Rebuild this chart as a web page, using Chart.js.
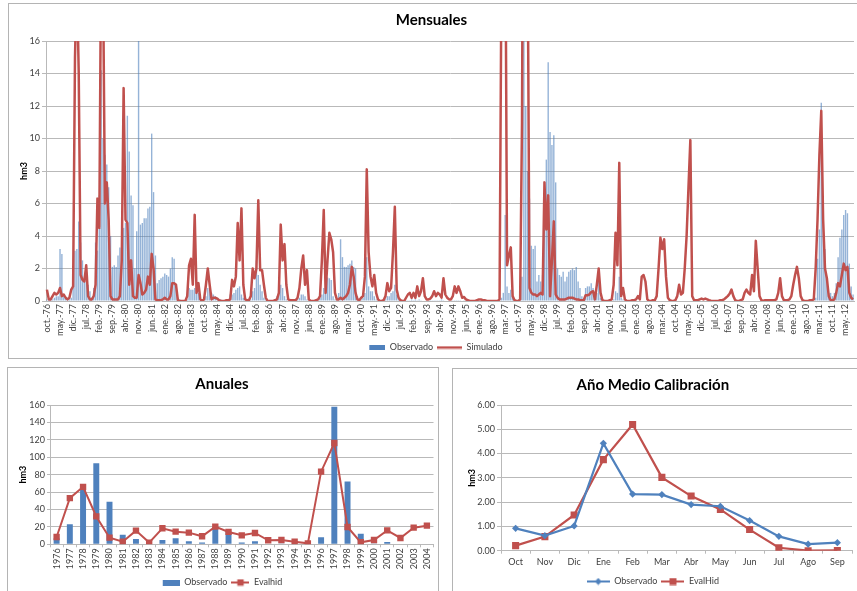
<!DOCTYPE html>
<html lang="es">
<head>
<meta charset="utf-8">
<title>Calibración EvalHid</title>
<script src="https://cdn.jsdelivr.net/npm/chart.js@4.4.1/dist/chart.umd.min.js"></script>
<style>
    html, body { margin: 0; padding: 0; background: #fff; }
    body { position: relative; width: 857px; height: 591px; overflow: hidden; }
    .marco { position: absolute; box-sizing: border-box; border: 1px solid #b4b4b4; background: #fff; }
    #marcoMens  { left: 8px;   top: 3px;   width: 870px; height: 356px; }
    #marcoAnual { left: 7px;   top: 367px; width: 432px; height: 240px; }
    #marcoMedio { left: 452px; top: 368px; width: 420px; height: 240px; }
    canvas { position: absolute; }
    #mensuales { left: 9px;   top: 4px; }
    #anuales   { left: 8px;   top: 368px; }
    #medio     { left: 453px; top: 369px; }
</style>
</head>
<body>
<div class="marco" id="marcoMens"></div>
<div class="marco" id="marcoAnual"></div>
<div class="marco" id="marcoMedio"></div>
<canvas id="mensuales" width="847" height="358"></canvas>
<canvas id="anuales" width="430" height="229"></canvas>
<canvas id="medio" width="404" height="227"></canvas>

<script>
// ---------------------------------------------------------------
// Datos (hm3). Series mensuales por año hidrológico, oct -> sep
// ---------------------------------------------------------------
const MESES_ABR = ['oct.', 'nov.', 'dic.', 'ene.', 'feb.', 'mar.', 'abr.', 'may.', 'jun.', 'jul.', 'ago.', 'sep.'];
const ANIO_INICIO = 1976;

const obsMensual = [
    [0.1, 0.1, 0.1, 0.1, 0.2, 0.3, 0.3, 3.2, 2.9, 0.4, 0.2, 0.1],      // 1976-77
    [0.1, 0.2, 0.8, 3.1, 3.2, 4.9, 3.6, 2.5, 1.5, 1.2, 1.0, 0.6],
    [0.2, 0.8, 3.6, 3.1, 6.5, 14.2, 10.0, 9.0, 8.4, 7.0, 4.0, 2.1],
    [2.2, 2.1, 2.8, 3.3, 3.8, 4.5, 4.8, 11.4, 9.2, 6.5, 5.9, 2.0],
    [4.3, 16.0, 4.7, 4.8, 5.1, 5.1, 5.7, 5.8, 10.3, 6.7, 2.8, 1.1],    // 1980-81
    [1.3, 1.4, 1.5, 1.7, 1.6, 1.5, 2.0, 2.7, 2.6, 1.0, 0.2, 0.1],
    [0.0, 0.0, 0.0, 0.1, 0.8, 0.7, 0.7, 0.8, 0.6, 0.5, 0.2, 0.1],
    [0.1, 0.3, 0.8, 0.7, 0.5, 0.4, 0.3, 0.2, 0.1, 0.1, 0.0, 0.0],
    [0.0, 0.1, 0.4, 0.4, 0.5, 0.7, 0.8, 0.9, 0.4, 0.2, 0.1, 0.0],
    [0.0, 0.1, 0.6, 0.8, 2.5, 1.6, 1.0, 0.6, 0.2, 0.1, 0.0, 0.0],      // 1985-86
    [0.0, 0.0, 0.1, 0.3, 1.2, 1.0, 0.8, 0.3, 0.1, 0.0, 0.0, 0.0],
    [0.0, 0.0, 0.1, 0.2, 0.4, 0.4, 0.3, 0.1, 0.0, 0.0, 0.0, 0.0],
    [0.0, 0.05, 0.2, 0.4, 0.8, 0.9, 1.45, 1.4, 1.3, 0.3, 0.1, 0.05],
    [0.5, 3.8, 2.7, 2.1, 2.1, 2.2, 2.3, 2.5, 2.1, 2.0, 0.3, 0.1],
    [0.1, 0.2, 0.5, 2.7, 0.9, 0.6, 0.6, 0.3, 0.1, 0.0, 0.0, 0.0],      // 1990-91
    [0.0, 0.1, 0.3, 0.3, 0.5, 0.6, 1.0, 0.4, 0.1, 0.0, 0.0, 0.0],
    [0.05, 0.05, 0.05, 0.1, 0.05, 0.1, 0.05, 0.1, 0.05, 0.0, 0.0, 0.0],
    [0.0, 0.05, 0.05, 0.05, 0.05, 0.05, 0.05, 0.1, 0.05, 0.0, 0.0, 0.0],
    [0.0, 0.05, 0.05, 0.05, 0.05, 0.05, 0.0, 0.05, 0.0, 0.0, 0.0, 0.0],
    [0.0, 0.0, 0.0, 0.05, 0.05, 0.0, 0.0, 0.0, 0.0, 0.0, 0.0, 0.0],    // 1995-96
    [0.0, 0.0, 0.0, 0.2, 0.5, 5.3, 0.9, 0.5, 0.7, 0.2, 0.05, 0.0],
    [0.0, 0.1, 1.5, 95.0, 12.0, 8.0, 6.3, 3.4, 3.2, 3.4, 1.2, 1.6],
    [1.2, 1.6, 5.1, 8.7, 14.7, 10.4, 9.6, 10.2, 7.3, 2.0, 1.6, 1.5],
    [1.8, 1.2, 1.5, 1.8, 1.9, 2.0, 1.9, 2.1, 1.2, 0.8, 0.3, 0.1],
    [0.8, 0.9, 0.9, 1.1, 0.8, 0.3, 0.5, 1.6, 0.2, 0.0, 0.0, 0.0],      // 2000-01
    [0.0, 0.0, 0.0, 0.1, 0.6, 0.5, 1.5, 0.2, 0.1, 0.0, 0.0, 0.0],
    [0, 0, 0, 0, 0, 0, 0, 0, 0, 0, 0, 0],
    [0, 0, 0, 0, 0, 0, 0, 0, 0, 0, 0, 0],
    [0, 0, 0, 0, 0, 0, 0, 0, 0, 0, 0, 0],
    [0, 0, 0, 0, 0, 0, 0, 0, 0, 0, 0, 0],                              // 2005-06
    [0, 0, 0, 0, 0, 0, 0, 0, 0, 0, 0, 0],
    [0, 0, 0, 0, 0, 0, 0, 0, 0, 0, 0, 0],
    [0, 0, 0, 0, 0, 0, 0, 0, 0, 0, 0, 0],
    [0, 0, 0, 0, 0, 0, 0, 0, 0, 0, 0, 0],
    [0.0, 0.0, 0.0, 0.2, 2.6, 4.4, 12.2, 4.7, 3.2, 1.4, 0.5, 0.5],     // 2010-11
    [0.3, 0.5, 1.1, 2.7, 3.9, 4.4, 5.3, 5.6, 5.4, 2.3, 0.9, 0.4]
];

const simMensual = [
    [0.7, 0.1, 0.1, 0.3, 0.5, 0.4, 0.5, 0.8, 0.3, 0.4, 0.2, 0.1],      // 1976-77
    [0.2, 0.7, 0.9, 15.0, 20.0, 14.0, 1.6, 1.3, 1.2, 2.2, 0.3, 0.1],
    [0.1, 0.3, 1.0, 6.3, 4.5, 22.0, 20.0, 6.0, 7.3, 5.0, 0.3, 0.1],
    [0.1, 0.1, 0.1, 0.3, 2.5, 13.1, 5.0, 4.8, 1.0, 2.5, 0.3, 0.2],
    [0.2, 1.6, 1.1, 0.4, 0.5, 0.7, 1.5, 1.0, 2.9, 2.0, 0.1, 0.05],     // 1980-81
    [0.05, 0.05, 0.1, 0.2, 0.1, 0.1, 0.3, 1.1, 1.1, 1.0, 0.05, 0.0],
    [0.0, 0.0, 0.0, 0.3, 2.2, 2.6, 1.0, 5.3, 0.5, 1.1, 0.1, 0.0],
    [0.1, 1.0, 2.0, 1.0, 0.1, 0.2, 0.2, 0.15, 0.05, 0.0, 0.0, 0.0],
    [0.05, 0.05, 0.1, 1.3, 0.9, 1.5, 4.8, 2.5, 5.7, 1.0, 0.1, 0.05],
    [0.05, 0.3, 2.0, 1.4, 2.0, 6.2, 1.9, 1.9, 1.0, 0.2, 0.0, 0.0],     // 1985-86
    [0.0, 0.0, 0.05, 0.1, 0.5, 4.7, 2.5, 3.5, 1.0, 0.1, 0.05, 0.05],
    [0.05, 0.05, 0.2, 0.8, 2.0, 2.8, 1.0, 1.9, 0.1, 0.0, 0.0, 0.0],
    [0.05, 0.1, 0.3, 2.5, 5.6, 0.5, 2.5, 4.2, 3.8, 3.0, 0.5, 0.1],
    [0.1, 0.2, 0.1, 0.2, 0.3, 0.5, 1.0, 2.1, 1.5, 0.5, 0.1, 0.05],
    [0.2, 0.3, 1.5, 8.1, 3.0, 1.5, 0.9, 1.6, 0.5, 0.1, 0.0, 0.0],      // 1990-91
    [0.05, 0.3, 1.1, 0.6, 0.8, 3.0, 5.8, 0.7, 0.2, 0.05, 0.0, 0.0],
    [0.2, 0.4, 0.5, 0.2, 0.5, 0.2, 0.9, 0.3, 0.6, 1.4, 0.3, 0.1],
    [0.1, 0.15, 0.3, 0.6, 0.3, 0.5, 0.4, 0.2, 1.4, 0.4, 0.2, 0.1],
    [0.1, 0.3, 0.9, 0.5, 0.9, 0.6, 0.2, 0.25, 0.1, 0.05, 0.0, 0.0],
    [0.0, 0.0, 0.05, 0.1, 0.1, 0.05, 0.05, 0.02, 0.0, 0.0, 0.0, 0.0],  // 1995-96
    [0.0, 0.0, 0.1, 20.0, 28.0, 26.0, 2.2, 2.8, 3.3, 0.3, 0.05, 0.0],
    [0.0, 0.1, 11.0, 40.0, 45.0, 22.0, 0.8, 0.5, 0.4, 0.4, 0.3, 0.4],
    [0.5, 0.4, 7.3, 4.4, 6.5, 0.3, 2.5, 4.9, 0.4, 0.2, 0.1, 0.1],
    [0.1, 0.1, 0.15, 0.2, 0.2, 0.2, 0.15, 0.1, 0.1, 0.05, 0.05, 0.05],
    [0.35, 0.35, 0.4, 0.55, 0.6, 0.1, 1.0, 2.0, 0.5, 0.05, 0.0, 0.0],  // 2000-01
    [0.0, 0.05, 0.1, 1.0, 4.2, 2.2, 8.5, 0.3, 0.8, 0.1, 0.0, 0.0],
    [0.0, 0.05, 0.05, 0.1, 0.3, 0.1, 1.5, 1.6, 1.2, 0.1, 0.0, 0.0],
    [0.05, 0.05, 0.3, 2.0, 3.9, 3.2, 3.8, 1.5, 0.2, 0.05, 0.0, 0.0],
    [0.05, 0.3, 1.0, 0.4, 0.5, 2.0, 4.0, 7.0, 9.9, 0.3, 0.05, 0.05],
    [0.05, 0.1, 0.15, 0.1, 0.15, 0.1, 0.05, 0.02, 0.0, 0.0, 0.0, 0.0], // 2005-06
    [0.05, 0.05, 0.1, 0.2, 0.3, 0.45, 0.7, 0.3, 0.05, 0.0, 0.0, 0.05],
    [0.1, 0.5, 0.7, 0.5, 0.4, 1.6, 0.6, 3.7, 2.0, 0.3, 0.05, 0.0],
    [0.05, 0.05, 0.05, 0.05, 0.05, 0.05, 0.1, 0.5, 1.4, 0.3, 0.05, 0.05],
    [0.05, 0.1, 0.3, 1.0, 1.6, 2.1, 1.4, 0.3, 0.05, 0.0, 0.0, 0.0],
    [0.05, 0.05, 0.1, 2.0, 5.0, 9.0, 11.7, 5.0, 2.0, 1.4, 0.3, 0.05],  // 2010-11
    [0.05, 0.1, 0.5, 1.1, 0.9, 1.6, 2.3, 1.9, 2.1, 0.5, 0.2, 0.1]
];

// Totales anuales (periodo de calibración)
const aniosAnual = ['1976', '1977', '1978', '1979', '1980', '1981', '1982', '1983', '1984', '1985',
    '1986', '1987', '1988', '1989', '1990', '1991', '1992', '1993', '1994', '1995',
    '1996', '1997', '1998', '1999', '2000', '2001', '2002', '2003', '2004'];
const obsAnual = [7, 23, 63, 93, 49, 11, 6, 0.5, 5, 7, 3.5, 2, 18, 14.5, 2, 3.5, 0.5, 0.3, 0.3, 0.5,
    8, 158, 72, 12, 0.3, 2.5, 0, 0, 0];
const simAnual = [8.4, 53, 66, 32, 7.6, 3, 15.7, 2, 18.4, 14.5, 13.4, 9.2, 20.3, 14.2, 10.3, 13, 4.6, 5, 3, 1.1,
    83.4, 116.4, 19.9, 2.3, 5, 16, 7.3, 19.1, 21.4];

// Año medio
const mesesMedio = ['Oct', 'Nov', 'Dic', 'Ene', 'Feb', 'Mar', 'Abr', 'May', 'Jun', 'Jul', 'Ago', 'Sep'];
const obsMedio = [0.92, 0.62, 1.02, 4.42, 2.33, 2.31, 1.90, 1.83, 1.24, 0.59, 0.27, 0.33];
const simMedio = [0.21, 0.58, 1.47, 3.75, 5.20, 3.02, 2.25, 1.70, 0.87, 0.12, 0.00, 0.01];

// ---------------------------------------------------------------
// Estilo común (aspecto de gráfico de Excel)
// ---------------------------------------------------------------
const AZUL = '#4F81BD';
const ROJO = '#C0504D';
const GRIS_REJILLA = '#b9b9b9';
const GRIS_TEXTO = '#404040';

Chart.defaults.font.family = "Lato, 'Open Sans', sans-serif";
Chart.defaults.font.size = 9;
Chart.defaults.color = GRIS_TEXTO;
Chart.defaults.animation = false;
Chart.defaults.responsive = false;
Chart.defaults.plugins.tooltip.enabled = false;

// etiquetas "oct.-76", "nov.-76", ... para cada mes de la serie
const etiquetasMes = [];
obsMensual.forEach((_, k) => {
    MESES_ABR.forEach((m, i) => {
        const anio = ANIO_INICIO + k + (i >= 3 ? 1 : 0);
        etiquetasMes.push(m + '-' + String(anio).slice(-2));
    });
});

// iconos de leyenda dibujados a mano (barra, línea, línea con marcador)
function lienzo(w, h, pintar) {
    const c = document.createElement('canvas');
    c.width = w;
    c.height = h;
    pintar(c.getContext('2d'), w, h);
    return c;
}
function iconoBarra(w, h, anchoBarra) {
    return lienzo(w, h, (ctx) => {
        ctx.fillStyle = AZUL;
        ctx.fillRect(w - anchoBarra, 0, anchoBarra, h);
    });
}
function iconoLinea(w, h, color, grosor, marca, r) {
    return lienzo(w, h, (ctx) => {
        ctx.strokeStyle = color;
        ctx.lineWidth = grosor;
        ctx.beginPath();
        ctx.moveTo(0, h / 2);
        ctx.lineTo(w, h / 2);
        ctx.stroke();
        ctx.fillStyle = color;
        if (marca === 'cuadro') {
            ctx.fillRect(w / 2 - r, h / 2 - r, 2 * r, 2 * r);
        } else if (marca === 'rombo') {
            ctx.beginPath();
            ctx.moveTo(w / 2, h / 2 - r);
            ctx.lineTo(w / 2 + r, h / 2);
            ctx.lineTo(w / 2, h / 2 + r);
            ctx.lineTo(w / 2 - r, h / 2);
            ctx.closePath();
            ctx.fill();
        }
    });
}

// la leyenda sigue el orden de los datasets, no el orden de dibujo
function leyenda(iconos) {
    return (chart) => chart.data.datasets.map((ds, i) => ({
        text: ds.label,
        pointStyle: iconos[i],
        datasetIndex: i,
        hidden: false,
        fillStyle: 'rgba(0,0,0,0)',
        strokeStyle: 'rgba(0,0,0,0)',
        lineWidth: 0,
        fontColor: GRIS_TEXTO
    }));
}

function titulo(texto, padTop, padBottom) {
    return {
        display: true,
        text: texto,
        color: '#000',
        font: { size: 15, weight: 'bold' },
        padding: { top: padTop, bottom: padBottom }
    };
}

function ejeY(ancho, max, paso, padTitulo, marca, formato) {
    const ticks = { stepSize: paso, padding: 2, color: GRIS_TEXTO };
    if (formato) ticks.callback = formato;
    return {
        min: 0,
        max: max,
        afterFit: (s) => { s.width = ancho; s.paddingTop = 0; s.paddingBottom = 0; },
        ticks: ticks,
        grid: { color: GRIS_REJILLA, drawTicks: true, tickLength: marca },
        border: { color: GRIS_REJILLA },
        title: {
            display: true,
            text: 'hm3',
            color: '#000',
            font: { size: 9, weight: 'bold' },
            padding: { top: padTitulo, bottom: 0 }
        }
    };
}

// ==============================================
// 1. Mensuales
// ==============================================
new Chart(document.getElementById('mensuales'), {
    type: 'bar',
    data: {
        labels: etiquetasMes,
        datasets: [
            {
                type: 'bar',
                label: 'Observado',
                data: obsMensual.flat(),
                backgroundColor: 'rgba(79, 129, 189, 0.6)',
                barPercentage: 0.75,
                categoryPercentage: 1.0,
                order: 1
            },
            {
                type: 'line',
                label: 'Simulado',
                data: simMensual.flat(),
                borderColor: ROJO,
                borderWidth: 2.5,
                borderJoinStyle: 'round',
                pointRadius: 0,
                tension: 0,
                order: 0
            }
        ]
    },
    options: {
        layout: { padding: { left: 0, right: 2, top: 0, bottom: 0 } },
        plugins: {
            title: titulo('Mensuales', 7, 12),
            legend: {
                position: 'bottom',
                labels: {
                    usePointStyle: true,
                    pointStyleWidth: 25,
                    boxHeight: 9,
                    padding: 4,
                    color: GRIS_TEXTO,
                    font: { size: 9 },
                    generateLabels: leyenda([iconoBarra(25, 5, 16), iconoLinea(25, 4, ROJO, 2.5)])
                }
            }
        },
        scales: {
            y: ejeY(37, 16, 2, 9.6, 4),
            x: {
                afterFit: (s) => { s.height = 38; s.paddingLeft = 0; s.paddingRight = 0; },
                grid: { display: false, drawTicks: false },
                border: { color: GRIS_REJILLA },
                ticks: {
                    autoSkip: false,
                    minRotation: 90,
                    maxRotation: 90,
                    padding: 3,
                    callback: function (value, index) {
                        return index % 7 === 0 ? this.getLabelForValue(value) : '';
                    }
                }
            }
        }
    }
});

// ==============================================
// 2. Anuales
// ==============================================
new Chart(document.getElementById('anuales'), {
    type: 'bar',
    data: {
        labels: aniosAnual,
        datasets: [
            {
                type: 'bar',
                label: 'Observado',
                data: obsAnual,
                backgroundColor: AZUL,
                barPercentage: 0.45,
                categoryPercentage: 1.0,
                order: 1
            },
            {
                type: 'line',
                label: 'Evalhid',
                data: simAnual,
                borderColor: ROJO,
                borderWidth: 2,
                pointStyle: 'rect',
                pointRadius: 4.5,
                pointBackgroundColor: ROJO,
                pointBorderColor: ROJO,
                pointBorderWidth: 0,
                tension: 0,
                order: 0
            }
        ]
    },
    options: {
        layout: { padding: { left: 0, right: 2, top: 0, bottom: 0 } },
        plugins: {
            title: titulo('Anuales', 7, 12),
            legend: {
                position: 'bottom',
                labels: {
                    usePointStyle: true,
                    pointStyleWidth: 18,
                    boxHeight: 9,
                    padding: 4,
                    color: GRIS_TEXTO,
                    font: { size: 9 },
                    generateLabels: leyenda([iconoBarra(18, 6, 17), iconoLinea(18, 8, ROJO, 2, 'cuadro', 3.2)])
                }
            }
        },
        scales: {
            y: ejeY(42, 160, 20, 9.9, 3),
            x: {
                afterFit: (s) => { s.height = 29.7; s.paddingLeft = 0; s.paddingRight = 0; },
                grid: { drawOnChartArea: false, drawTicks: true, tickLength: 3, color: GRIS_REJILLA },
                border: { color: GRIS_REJILLA },
                ticks: { autoSkip: false, minRotation: 90, maxRotation: 90, padding: 1 }
            }
        }
    }
});

// ==============================================
// 3. Año medio de calibración
// ==============================================
new Chart(document.getElementById('medio'), {
    type: 'line',
    data: {
        labels: mesesMedio,
        datasets: [
            {
                label: 'Observado',
                data: obsMedio,
                borderColor: AZUL,
                borderWidth: 2.2,
                pointStyle: 'rectRot',
                pointRadius: 3.6,
                pointBackgroundColor: AZUL,
                pointBorderColor: AZUL,
                pointBorderWidth: 0,
                tension: 0
            },
            {
                label: 'EvalHid',
                data: simMedio,
                borderColor: ROJO,
                borderWidth: 2.2,
                pointStyle: 'rect',
                pointRadius: 5,
                pointBackgroundColor: ROJO,
                pointBorderColor: ROJO,
                pointBorderWidth: 0,
                tension: 0
            }
        ]
    },
    options: {
        layout: { padding: { left: 0, right: 4.3, top: 0, bottom: 0 } },
        plugins: {
            title: titulo('Año Medio Calibración', 7, 11),
            legend: {
                position: 'bottom',
                labels: {
                    usePointStyle: true,
                    pointStyleWidth: 23,
                    boxHeight: 9,
                    padding: 4,
                    color: GRIS_TEXTO,
                    font: { size: 9 },
                    generateLabels: leyenda([
                        iconoLinea(23, 8, AZUL, 2, 'rombo', 3.5),
                        iconoLinea(23, 8, ROJO, 2, 'cuadro', 3.5)
                    ])
                }
            }
        },
        scales: {
            y: ejeY(48, 6, 1, 13.3, 4, (v) => v.toFixed(2)),
            x: {
                offset: true,
                afterFit: (s) => { s.height = 22.3; s.paddingLeft = 0; s.paddingRight = 0; },
                grid: { offset: true, drawOnChartArea: false, drawTicks: true, tickLength: 3, color: GRIS_REJILLA },
                border: { color: GRIS_REJILLA },
                ticks: { padding: 3 }
            }
        }
    }
});
</script>
</body>
</html>
